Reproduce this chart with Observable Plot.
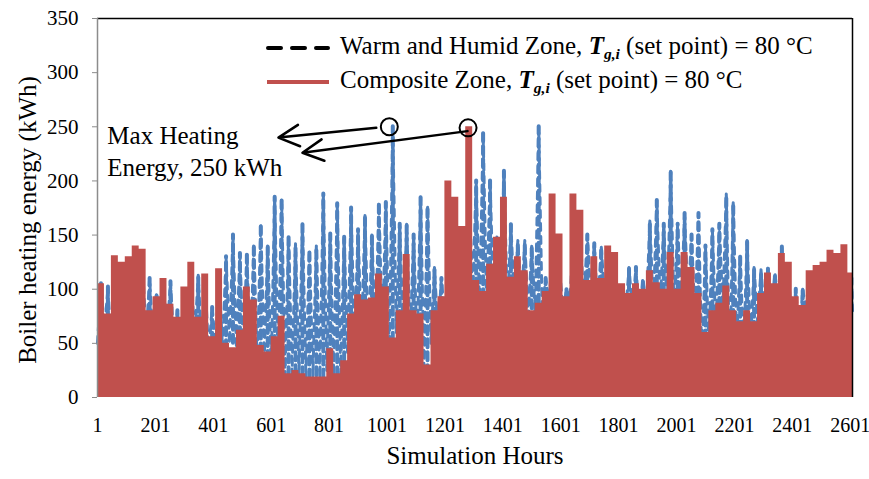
<!DOCTYPE html>
<html><head><meta charset="utf-8">
<script src="https://cdn.jsdelivr.net/npm/d3@7"></script>
<script src="https://cdn.jsdelivr.net/npm/@observablehq/plot@0.6"></script>
<style>
body{margin:0;background:#fff;}
#wrap{position:relative;width:869px;height:479px;font-family:"Liberation Serif","Times New Roman",serif;color:#000;}
#wrap svg.plot{overflow:visible;}
.leg{position:absolute;left:265px;height:34px;line-height:34px;font-size:25px;white-space:nowrap;}
.leg svg{vertical-align:middle;margin-right:9px;}
.leg sub{font-size:0.62em;font-weight:bold;font-style:italic;vertical-align:-0.35em;line-height:0;}
</style></head><body><div id="wrap"></div>
<script>
// x axis tick labels (simulation hours) and y ticks (kWh)
const xTicks = [1, 201, 401, 601, 801, 1001, 1201, 1401, 1601, 1801, 2001, 2201, 2401, 2601];
const yTicks = [0, 50, 100, 150, 200, 250, 300, 350];
const lastHour = 2609;
const hoursPerDay = 24;

// Composite Zone: daily peak of boiler heating energy (kWh)
const compositePeak = [
  105, 77, 131, 125, 130, 140, 137, 80, 93, 110, 86, 74, 102, 125, 74, 114, 56, 119,
  50, 46, 62, 102, 90, 48, 42, 56, 75, 22, 25, 22, 19, 19, 19, 45, 22, 34,
  77, 95, 90, 92, 114, 102, 55, 80, 132, 80, 77, 30, 80, 93, 200, 185, 158, 250, 108,
  98, 123, 148, 185, 111, 130, 117, 80, 87, 98, 188, 151, 93, 188, 173, 108, 130, 110,
  140, 134, 105, 96, 105, 100, 117, 106, 100, 134, 100, 134, 120, 96, 60, 80, 87, 103,
  80, 70, 80, 70, 96, 115, 105, 133, 125, 93, 85, 117, 122, 125, 136, 133, 141, 115
];
// Warm and Humid Zone: daily high and low (kWh)
const warmHumidHigh = [
  105, 102, 110, 110, 115, 120, 120, 110, 95, 105, 107, 80, 95, 110, 113, 105, 83, 110,
  130, 150, 133, 133, 142, 160, 140, 185, 183, 148, 142, 160, 136, 140, 188, 151, 179, 148,
  175, 155, 168, 150, 180, 180, 250, 160, 160, 150, 185, 178, 120, 110, 120, 140, 150, 190, 200,
  245, 200, 150, 209, 160, 145, 145, 140, 250, 110, 135, 120, 100, 150, 150, 150, 142, 140,
  125, 115, 100, 120, 120, 110, 163, 182, 160, 209, 160, 170, 150, 170, 140, 155, 160, 188,
  180, 130, 145, 120, 118, 120, 115, 139, 110, 100, 100, 110, 120, 110, 105, 100, 108, 110
];
const warmHumidLow = [
  50, 60, 40, 45, 40, 50, 45, 55, 50, 45, 55, 50, 40, 45, 55, 45, 40, 45,
  45, 50, 45, 40, 35, 30, 35, 25, 30, 20, 22, 20, 18, 20, 18, 25, 20, 22,
  40, 45, 50, 45, 50, 55, 40, 60, 55, 50, 45, 22, 50, 60, 70, 80, 75, 90, 90,
  80, 85, 90, 95, 80, 85, 85, 70, 75, 80, 90, 85, 80, 90, 85, 85, 90, 80,
  90, 85, 80, 75, 80, 75, 80, 80, 85, 80, 75, 80, 85, 70, 30, 45, 60, 80,
  25, 50, 40, 50, 70, 75, 80, 85, 70, 60, 55, 80, 90, 95, 90, 95, 100, 80
];

// annotation
const annLines = ["Max Heating", "Energy, 250 kWh"];
const annAt = [{h: 35, v: 255}];
const maxPoints = [{h: 1009, v: 250}, {h: 1281, v: 249}];
const maxArrows = [{h1: 964, v1: 249, h2: 626, v2: 240}, {h1: 1279, v1: 246, h2: 709, v2: 226}];

const redData = compositePeak.map((v, i) => ({h: 1 + hoursPerDay * i, v}));
redData.push({h: lastHour, v: compositePeak[compositePeak.length - 1]});
const blueData = warmHumidHigh.flatMap((hi, i) => [
  {h: 1 + hoursPerDay * i, v: warmHumidLow[i]},
  {h: 1 + hoursPerDay * i + hoursPerDay / 2, v: hi}
]);
blueData.push({h: lastHour, v: warmHumidLow[warmHumidLow.length - 1]});
const blueDays = warmHumidHigh.map((hi, i) => ({h: 1 + hoursPerDay * i + hoursPerDay / 2, lo: warmHumidLow[i], hi}));

const chart = Plot.plot({
  width: 869, height: 479,
  marginLeft: 97, marginRight: 17, marginTop: 18, marginBottom: 82,
  style: {fontFamily: "Liberation Serif, Times New Roman, serif", fontSize: "21px", color: "black", background: "white", overflow: "visible"},
  x: {domain: [1, lastHour]},
  y: {domain: [0, 350]},
  marks: [
    Plot.ruleX(blueDays, {x: "h", y1: "lo", y2: "hi", stroke: "#4F81BD", strokeWidth: 4, strokeDasharray: "8,5", strokeLinecap: "round"}),
    Plot.line(blueData, {x: "h", y: "v", stroke: "#4F81BD", strokeWidth: 3, strokeDasharray: "7,6", strokeLinecap: "round"}),
    Plot.areaY(redData, {x: "h", y: "v", curve: "step-after", fill: "#C0504D"}),
    Plot.ruleY([350], {stroke: "black", strokeWidth: 1.5}),
    Plot.ruleX([lastHour], {stroke: "black", strokeWidth: 1.5}),
    Plot.ruleX([1], {stroke: "#8c8c8c", strokeWidth: 1.5}),
    Plot.axisY({ticks: yTicks, tickSize: 5, tickPadding: 14, label: null, stroke: "#8c8c8c", fontSize: 21}),
    Plot.axisX({ticks: xTicks, tickSize: 0, tickPadding: 20, label: null, fontSize: 20, tickFormat: d => String(d)}),
    Plot.text(["Simulation Hours"], {text: d => d, frameAnchor: "bottom", dy: 66, fontSize: 25}),
    Plot.text(["Boiler heating energy (kWh)"], {text: d => d, frameAnchor: "left", textAnchor: "middle", dx: -70, dy: 12, rotate: -90, fontSize: 25, letterSpacing: "1px"}),
    Plot.dot(maxPoints, {x: "h", y: "v", r: 8.5, stroke: "black", strokeWidth: 2, fill: "none"}),
    Plot.arrow(maxArrows, {x1: "h1", y1: "v1", x2: "h2", y2: "v2", stroke: "black", strokeWidth: 2.5, headLength: 14, headAngle: 55}),
    Plot.text(annAt, {x: "h", y: "v", text: () => annLines.join("\n"), textAnchor: "start", lineAnchor: "top", fontSize: 25, lineHeight: 1.28})
  ]
});
const wrap = document.getElementById("wrap");
wrap.appendChild(chart);

const Tg = '<b><i>T</i></b><sub>g,i</sub>';
const leg1 = document.createElement("div");
leg1.className = "leg"; leg1.style.top = "29px";
leg1.innerHTML = '<svg width="66" height="10"><line x1="3" y1="5" x2="63" y2="5" stroke="black" stroke-width="4" stroke-dasharray="13,11" stroke-linecap="round"/></svg>' +
  '<span>Warm and Humid Zone, ' + Tg + ' (set point) = 80 °C</span>';
const leg2 = document.createElement("div");
leg2.className = "leg"; leg2.style.top = "63px";
leg2.innerHTML = '<svg width="66" height="10"><line x1="2" y1="5" x2="64" y2="5" stroke="#C0504D" stroke-width="4"/></svg>' +
  '<span>Composite Zone, ' + Tg + ' (set point) = 80 °C</span>';
wrap.appendChild(leg1); wrap.appendChild(leg2);
</script></body></html>
